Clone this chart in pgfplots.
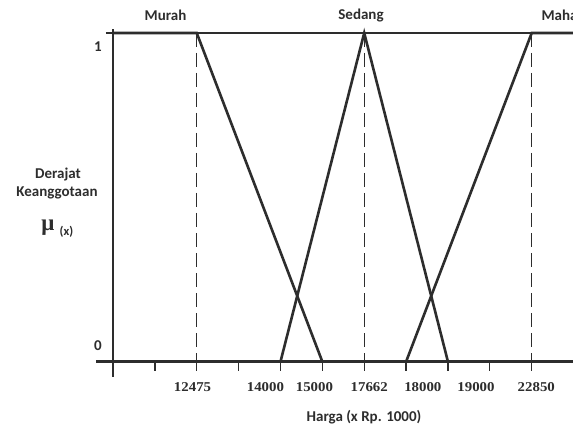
\documentclass[border=0pt]{standalone}
\usepackage{fontspec}
\setmainfont{Carlito}
\newfontfamily\serifnum{Liberation Serif}
\usepackage{pgfplots}
\pgfplotsset{compat=1.18}
\definecolor{ink}{RGB}{45,45,45}
\newcommand\numfont{\serifnum\bfseries\fontsize{13.5}{15}\selectfont}
\newcommand\lblfont{\bfseries\fontsize{15}{17}\selectfont}
\newcommand\sn[1]{\scalebox{1.1}[1]{#1}}
\begin{document}
\begin{tikzpicture}
\path[use as bounding box, fill=white] (0,0) rectangle (573pt,-425pt);
\begin{axis}[
  x=41.87pt, y=328.7pt,
  anchor=origin, at={(113pt,-361.7pt)},
  xmin=-0.4, xmax=11.3, ymin=-0.046, ymax=1.012,
  clip=false,
  axis lines=middle,
  x axis line style={-, ink, line width=2.8pt},
  y axis line style={-, ink, line width=2.4pt},
  ytick=\empty,
  xtick={1.90,3.64,4.81,6.12,7.40,8.67,10.11},
  xticklabels={\sn{12475},\sn{14000},\sn{15000},\sn{17662},\sn{18000},\sn{19000},\sn{22850}},
  major tick length=0pt,
  xticklabel style={font=\numfont, text=ink, anchor=center, yshift=-25.3pt},
  extra x ticks={1,2,3,4,5,6,7,8,9,10},
  extra x tick labels={,,,,,,,,,},
  extra x tick style={major tick length=9pt, tick align=outside, tick style={ink, line width=1.3pt}},
]
% top reference line
\addplot[ink, line width=1.2pt] coordinates {(-0.17,1) (11.3,1)};
% dashed guides
\addplot[ink, line width=1.2pt, dash pattern=on 14pt off 6pt] coordinates {(2,1) (2,0)};
\addplot[ink, line width=1.2pt, dash pattern=on 14pt off 6pt] coordinates {(6,1) (6,0)};
\addplot[ink, line width=1.2pt, dash pattern=on 14pt off 6pt] coordinates {(10,1) (10,0)};
% Murah
\addplot[ink, line width=2.6pt, line join=miter] coordinates {(0,1) (2,1) (5,0)};
% Sedang
\addplot[ink, line width=2.6pt, line join=miter] coordinates {(4,0) (6,1) (8,0)};
% Mahal
\addplot[ink, line width=2.6pt, line join=miter] coordinates {(7,0) (10,1) (11.3,1)};
\end{axis}
\node[font=\lblfont, text=ink] at (165.5pt,-15.7pt) {Murah};
\node[font=\lblfont, text=ink] at (361pt,-15.7pt) {Sedang};
\node[font=\lblfont, text=ink, anchor=west] at (538pt,-15.7pt) {Mahal};
\node[font=\lblfont, text=ink] at (98pt,-46.7pt) {1};
\node[font=\lblfont, text=ink] at (98pt,-346pt) {0};
\node[font=\lblfont, text=ink] at (58pt,-175pt) {Derajat};
\node[font=\lblfont, text=ink] at (57pt,-193.3pt) {Keanggotaan};
\node[text=ink] at (48pt,-228pt) {\serifnum\bfseries\fontsize{23}{23}\selectfont μ};
\node[font=\bfseries\fontsize{12.5}{13}\selectfont, text=ink] at (66.5pt,-232pt) {(x)};
\node[font=\lblfont, text=ink] at (364pt,-417pt) {Harga (x Rp. 1000)};
\end{tikzpicture}
\end{document}
